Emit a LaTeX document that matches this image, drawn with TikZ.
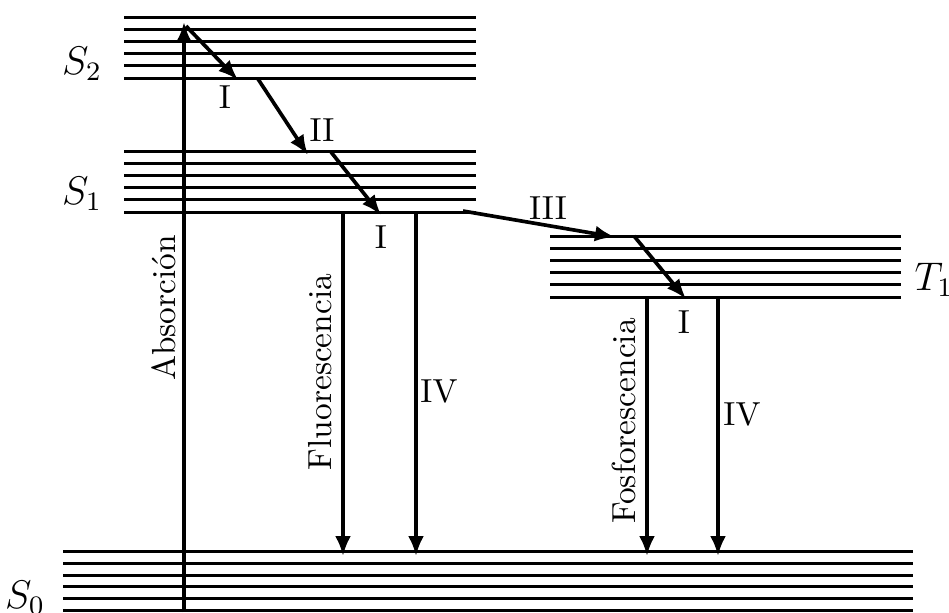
\documentclass[tikz,border=0pt]{standalone}
\usepackage{tikz}
\usetikzlibrary{arrows.meta}
\usetikzlibrary{calc}

\begin{document}
\begin{tikzpicture}[x=0.3pt, y=-0.3pt,
level/.style = {line width=0.9pt},
trans/.style = {line width=1.1pt, -{Latex[length=6pt,width=4.8pt]}},
state/.style = {font=\large},
tag/.style = {inner sep=1pt},
vtag/.style = {rotate=90, inner sep=1pt}
]
\useasboundingbox (0,0) rectangle (949,612);

% vibrational levels
\foreach \i in {0,...,5} {
  \draw [level] (124,{17+12.2*\i}) -- (476,{17+12.2*\i});
  \draw [level] (124,{151+12.2*\i}) -- (476,{151+12.2*\i});
  \draw [level] (550,{236+12.2*\i}) -- (901,{236+12.2*\i});
  \draw [level] (63,{551.5+11.8*\i}) -- (913,{551.5+11.8*\i});
}

% state labels
\node (s2) [state] at (82,64) {$S_2$};
\node (s1) [state] at (82,194) {$S_1$};
\node (t1) [state] at (934,280) {$T_1$};
\node (s0) [state] at (25,598) {$S_0$};

% end points of the transitions
\coordinate (abs0) at (184,612);
\coordinate (abs1) at (184,22);
\coordinate (ic2a) at (186,26);
\coordinate (ic2b) at (238,80);
\coordinate (ica) at (258,79);
\coordinate (icb) at (308,155);
\coordinate (ic1a) at (331,152);
\coordinate (ic1b) at (381,215);
\coordinate (isca) at (463,211);
\coordinate (iscb) at (615,237);
\coordinate (ictaa) at (634,236);
\coordinate (ictab) at (686,299);
\coordinate (fla) at (343,212);
\coordinate (flb) at (343,556);
\coordinate (nr1a) at (416,212);
\coordinate (nr1b) at (416,556);
\coordinate (foa) at (647,297);
\coordinate (fob) at (647,556);
\coordinate (nr2a) at (718,297);
\coordinate (nr2b) at (718,556);

\draw [trans] (abs0) -- (abs1);
\draw [trans] (ic2a) -- (ic2b);
\draw [trans] (ica) -- (icb);
\draw [trans] (ic1a) -- (ic1b);
\draw [trans] (isca) -- (iscb);
\draw [trans] (ictaa) -- (ictab);
\draw [trans] (fla) -- (flb);
\draw [trans] (nr1a) -- (nr1b);
\draw [trans] (foa) -- (fob);
\draw [trans] (nr2a) -- (nr2b);

% transition labels
\node (abs) [vtag] at (164,308) {Absorción};
\node (l2) [tag] at (225,97) {I};
\node (lii) [tag] at (322,130) {II};
\node (l1) [tag] at (381,237) {I};
\node (liii) [tag] at (548,208) {III};
\node (lt) [tag] at (684,322) {I};
\node (fl) [vtag] at (320,372) {Fluorescencia};
\node (liv1) [tag] at (439,391) {IV};
\node (fo) [vtag] at (624,421) {Fosforescencia};
\node (liv2) [tag] at (742,414) {IV};

\end{tikzpicture}
\end{document}
